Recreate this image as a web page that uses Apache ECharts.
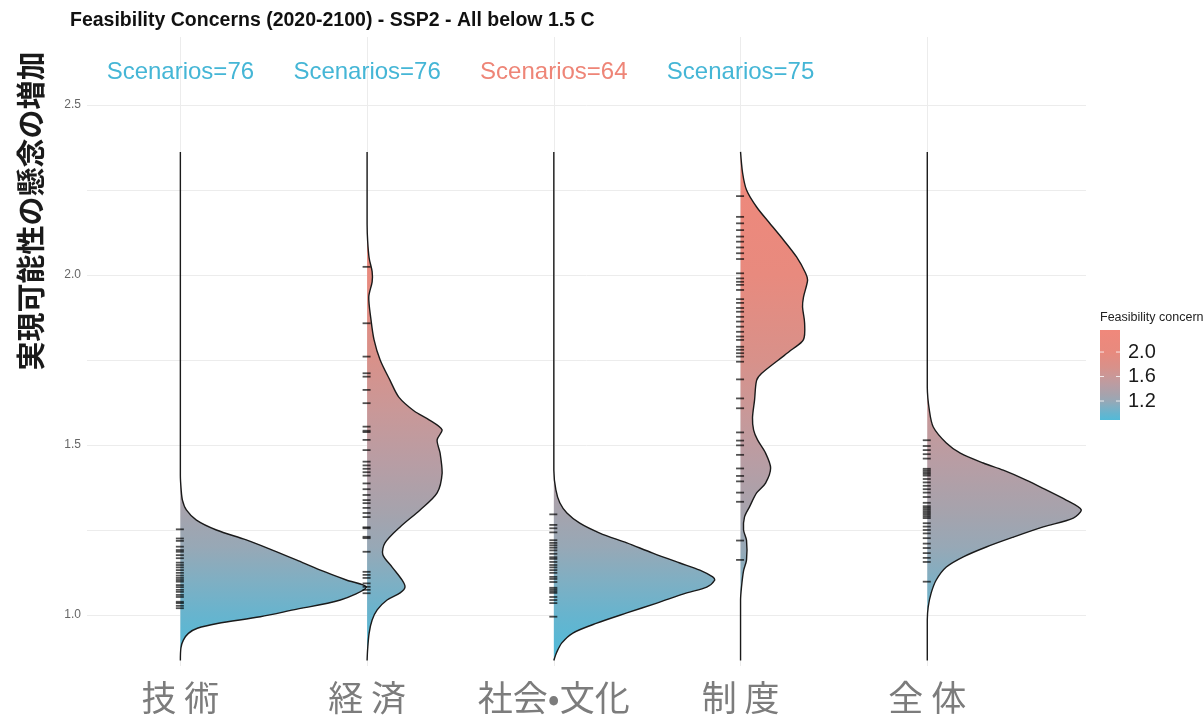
<!DOCTYPE html>
<html>
<head>
<meta charset="utf-8">
<script src="https://cdn.jsdelivr.net/npm/echarts@6/dist/echarts.min.js"></script>
<style>
  html, body { margin: 0; padding: 0; background: #ffffff; }
  #chart { width: 1203px; height: 717px; }
</style>
</head>
<body>
<div id="chart"></div>
<script>
// Categories along the x axis
const categories = ['技 術', '経 済', '社会•文化', '制 度', '全 体'];

// Half-violin density profiles: [feasibility concern value, density width in category units]
const techDensity = [[0.866,0],[0.903,0.003],[0.926,0.016],[0.946,0.043],[0.961,0.091],[0.975,0.198],[0.995,0.428],[1.015,0.605],[1.044,0.857],[1.082,0.996],[1.103,0.889],[1.132,0.75],[1.162,0.621],[1.191,0.493],[1.221,0.353],[1.25,0.193],[1.279,0.086],[1.309,0.032],[1.338,0.011],[1.37,0.004],[1.41,0],[2.362,0]];
const econDensity = [[0.866,0],[0.90,0.003],[0.947,0.011],[0.985,0.027],[1.015,0.054],[1.044,0.107],[1.065,0.177],[1.082,0.203],[1.103,0.187],[1.141,0.134],[1.178,0.084],[1.212,0.096],[1.259,0.177],[1.309,0.284],[1.359,0.375],[1.418,0.402],[1.476,0.391],[1.515,0.375],[1.544,0.402],[1.574,0.332],[1.60,0.252],[1.64,0.171],[1.69,0.123],[1.75,0.070],[1.81,0.037],[1.868,0.021],[1.935,0.009],[1.98,0.027],[2.01,0.027],[2.05,0.011],[2.10,0.003],[2.15,0],[2.362,0]];
const socioDensity = [[0.866,0],[0.891,0.016],[0.918,0.043],[0.947,0.102],[0.976,0.230],[1.006,0.391],[1.035,0.552],[1.065,0.712],[1.082,0.819],[1.103,0.862],[1.112,0.851],[1.132,0.782],[1.153,0.675],[1.182,0.530],[1.212,0.391],[1.241,0.246],[1.27,0.139],[1.30,0.070],[1.33,0.032],[1.368,0.011],[1.426,0],[2.362,0]];
const instDensity = [[0.866,0],[1.044,0],[1.082,0.005],[1.13,0.016],[1.162,0.032],[1.22,0.032],[1.25,0.016],[1.288,0.021],[1.318,0.048],[1.359,0.086],[1.388,0.134],[1.432,0.161],[1.476,0.134],[1.515,0.091],[1.544,0.07],[1.58,0.064],[1.632,0.075],[1.69,0.086],[1.71,0.112],[1.75,0.203],[1.78,0.273],[1.81,0.337],[1.859,0.343],[1.906,0.332],[1.935,0.337],[1.985,0.359],[2.006,0.348],[2.053,0.300],[2.103,0.230],[2.153,0.155],[2.20,0.086],[2.25,0.032],[2.30,0.011],[2.362,0]];
const totalDensity = [[0.866,0],[0.985,0],[1.024,0.005],[1.065,0.021],[1.103,0.048],[1.141,0.102],[1.171,0.193],[1.20,0.316],[1.229,0.461],[1.259,0.621],[1.285,0.782],[1.309,0.825],[1.338,0.744],[1.368,0.637],[1.397,0.530],[1.426,0.407],[1.447,0.300],[1.476,0.177],[1.506,0.102],[1.553,0.032],[1.603,0.011],[1.67,0],[2.362,0]];

// Individual scenario values (rug marks)
const techRug = [1.252,1.225,1.218,1.201,1.191,1.186,1.176,1.167,1.154,1.147,1.14,1.132,1.124,1.116,1.109,1.103,1.098,1.088,1.082,1.074,1.068,1.059,1.053,1.039,1.035,1.027,1.02];
const econRug = [2.024,1.858,1.76,1.711,1.701,1.662,1.623,1.554,1.542,1.538,1.515,1.485,1.451,1.44,1.43,1.42,1.41,1.387,1.37,1.353,1.338,1.329,1.315,1.3,1.288,1.258,1.255,1.23,1.226,1.186,1.127,1.118,1.109,1.093,1.083,1.074,1.064];
const socioRug = [1.296,1.265,1.255,1.243,1.22,1.212,1.205,1.198,1.19,1.18,1.17,1.165,1.156,1.147,1.14,1.132,1.124,1.112,1.106,1.097,1.08,1.075,1.07,1.065,1.053,1.044,1.035,0.995];
const instRug = [2.232,2.171,2.152,2.132,2.113,2.098,2.081,2.064,2.047,2.005,1.99,1.98,1.971,1.956,1.929,1.918,1.903,1.892,1.877,1.863,1.848,1.833,1.819,1.809,1.789,1.78,1.77,1.76,1.745,1.693,1.637,1.608,1.537,1.513,1.499,1.471,1.431,1.409,1.393,1.36,1.333,1.219,1.162];
const totalRug = [1.514,1.497,1.485,1.473,1.46,1.43,1.425,1.42,1.415,1.41,1.40,1.39,1.38,1.37,1.36,1.347,1.33,1.32,1.315,1.31,1.305,1.3,1.295,1.29,1.285,1.27,1.26,1.25,1.24,1.226,1.21,1.197,1.182,1.168,1.156,1.098];

// Scenario count annotations (drawn over the first four categories)
const scenarioLabels = ['Scenarios=76', 'Scenarios=76', 'Scenarios=64', 'Scenarios=75'];
const scenarioLabelY = 2.595;

// Axis tick values
const yLabelValues = [1.0, 1.5, 2.0, 2.5];
const yGridValues = [1.0, 1.25, 1.5, 1.75, 2.0, 2.25, 2.5];
const xTickValues = [1, 2, 3, 4, 5];

// Colour scale of the fill and its legend ticks
const fillRange = [0.89, 2.36];
const legendTicks = [2.0, 1.6, 1.2];

// ---- styling ----
const scenarioColors = ['#45B6D6', '#45B6D6', '#EE8577', '#45B6D6'];
// fill colour at given feasibility-concern values (high to low)
const colorAt = [
  [2.36, '#F0887B'], [2.0, '#E88A7E'], [1.75, '#D8918A'], [1.6, '#C99898'],
  [1.45, '#B89DA4'], [1.3, '#A5A3AD'], [1.2, '#97A8B6'], [1.1, '#7FAFC3'],
  [1.0, '#67B4CE'], [0.89, '#52BAD8']
];
const colorStops = colorAt.map(([v, c]) => ({
  offset: (fillRange[1] - v) / (fillRange[1] - fillRange[0]), color: c
}));
const densities = [techDensity, econDensity, socioDensity, instDensity, totalDensity];
const rugs = [techRug, econRug, socioRug, instRug, totalRug];

const chart = echarts.init(document.getElementById('chart'));

// colour bar geometry
const bar = { x: 1100, top: 330, w: 20, h: 90 };
const barY = v => bar.top + bar.h * (fillRange[1] - v) / (fillRange[1] - fillRange[0]);

const legendGraphics = [
  {
    type: 'text', left: 1100, top: 311,
    style: { text: 'Feasibility concern', font: '12.5px "Liberation Sans", Arial', fill: '#222' }
  },
  {
    type: 'rect', shape: { x: bar.x, y: bar.top, width: bar.w, height: bar.h },
    style: { fill: new echarts.graphic.LinearGradient(0, 0, 0, 1, colorStops) }
  }
];
legendTicks.forEach(v => {
  const y = barY(v);
  legendGraphics.push(
    { type: 'line', shape: { x1: bar.x, y1: y, x2: bar.x + 4, y2: y }, style: { stroke: '#ffffff', lineWidth: 1, opacity: 0.8 } },
    { type: 'line', shape: { x1: bar.x + bar.w - 4, y1: y, x2: bar.x + bar.w, y2: y }, style: { stroke: '#ffffff', lineWidth: 1, opacity: 0.8 } },
    {
      type: 'text', x: bar.x + bar.w + 8, y: y,
      style: { text: v.toFixed(1), font: '20px "Liberation Sans", Arial', fill: '#1a1a1a',
               align: 'left', verticalAlign: 'middle', textAlign: 'left', textVerticalAlign: 'middle' }
    }
  );
});

// bounding box of a point list, used to keep the smoothed outline inside it
function bounds(pts) {
  let x0 = Infinity, y0 = Infinity, x1 = -Infinity, y1 = -Infinity;
  pts.forEach(p => {
    x0 = Math.min(x0, p[0]); y0 = Math.min(y0, p[1]);
    x1 = Math.max(x1, p[0]); y1 = Math.max(y1, p[1]);
  });
  return [[x0, y0], [x1, y1]];
}

const option = {
  backgroundColor: '#ffffff',
  animation: false,
  title: {
    text: 'Feasibility Concerns (2020-2100) - SSP2 - All below 1.5 C',
    left: 65, top: 6,
    textStyle: { fontFamily: '"Liberation Sans", Arial', fontSize: 19.5, fontWeight: 'bold', color: '#111' }
  },
  grid: { left: 87, right: 117, top: 37, bottom: 51, containLabel: false },
  xAxis: {
    type: 'value', min: 0.5, max: 5.85,
    axisLine: { show: false },
    axisTick: { show: false, customValues: xTickValues },
    splitLine: { show: true, lineStyle: { color: '#ECECEC', width: 1 } },
    axisLabel: {
      customValues: xTickValues,
      formatter: v => categories[Math.round(v) - 1],
      fontFamily: '"Noto Sans CJK JP"', fontSize: 35, color: '#7c7c7c', margin: 14
    }
  },
  yAxis: {
    type: 'value', min: 0.85, max: 2.7,
    axisLine: { show: false },
    axisTick: { show: false, customValues: yGridValues },
    splitLine: { show: true, lineStyle: { color: '#ECECEC', width: 1 } },
    axisLabel: {
      customValues: yLabelValues,
      formatter: v => v.toFixed(1),
      fontFamily: '"Liberation Sans", Arial', fontSize: 12, color: '#666', margin: 6
    }
  },
  graphic: [
    {
      type: 'text', x: 31, y: 211, rotation: Math.PI / 2,
      style: { text: '実現可能性の懸念の増加', font: 'bold 29px "Noto Sans CJK JP"', fill: '#1a1a1a',
               align: 'center', verticalAlign: 'middle', textAlign: 'center', textVerticalAlign: 'middle' }
    },
    ...legendGraphics
  ],
  series: [
    {
      // half violins, filled with a gradient keyed to the y value
      type: 'custom',
      silent: true,
      data: densities.map((d, i) => [i + 1, d[0][0], d[d.length - 1][0]]),
      encode: { x: 0, y: [1, 2] },
      renderItem: (params, api) => {
        const i = params.dataIndex;
        const cat = i + 1;
        const pts = densities[i].map(([v, w]) => api.coord([cat + w, v]));
        const box = bounds(pts);
        const gTop = api.coord([cat, fillRange[1]])[1];
        const gBot = api.coord([cat, fillRange[0]])[1];
        const grad = new echarts.graphic.LinearGradient(0, gTop, 0, gBot, colorStops, true);
        return {
          type: 'group',
          children: [
            { type: 'polygon', shape: { points: pts, smooth: 0.3, smoothConstraint: box },
              style: { fill: grad, stroke: null } },
            { type: 'polyline', shape: { points: pts, smooth: 0.3, smoothConstraint: box },
              style: { fill: null, stroke: '#1a1a1a', lineWidth: 1.4 } }
          ]
        };
      },
      z: 2
    },
    {
      // rug marks for the individual scenarios
      type: 'scatter',
      silent: true,
      symbol: 'rect',
      symbolSize: [8, 1.8],
      symbolOffset: [-0.5, 0],
      itemStyle: { color: 'rgba(0,0,0,0.85)' },
      data: rugs.flatMap((r, i) => r.map(v => [i + 1, v])),
      z: 3
    },
    {
      // scenario count annotations
      type: 'custom',
      silent: true,
      data: scenarioLabels.map((t, i) => [i + 1, scenarioLabelY]),
      encode: { x: 0, y: 1 },
      renderItem: (params, api) => {
        const p = api.coord([api.value(0), api.value(1)]);
        return {
          type: 'text', x: p[0], y: p[1],
          style: {
            text: scenarioLabels[params.dataIndex],
            fill: scenarioColors[params.dataIndex],
            font: '24px "Liberation Sans", Arial',
            align: 'center', verticalAlign: 'middle', textAlign: 'center', textVerticalAlign: 'middle'
          }
        };
      },
      z: 4
    }
  ]
};

chart.setOption(option);
</script>
</body>
</html>
